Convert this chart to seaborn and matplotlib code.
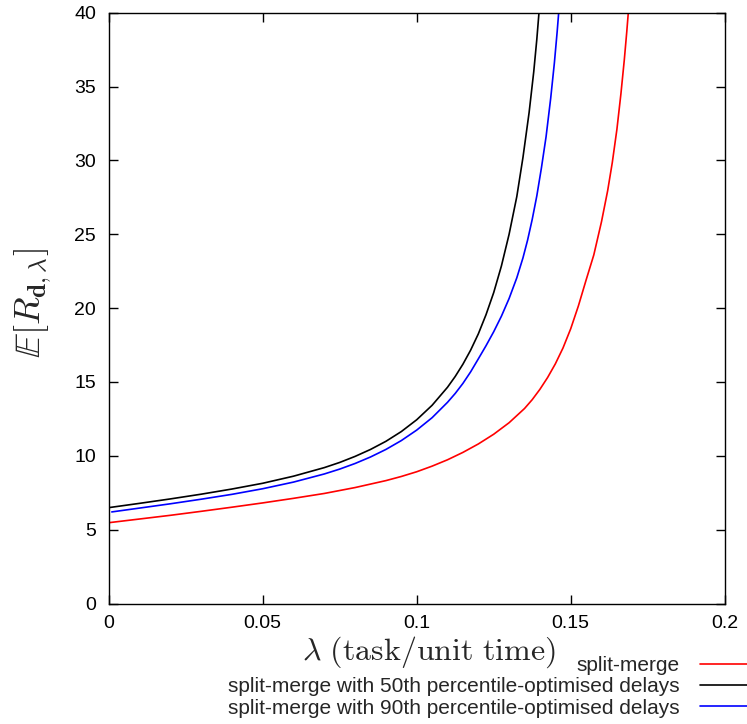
import numpy as np
import pandas as pd
import matplotlib
matplotlib.use("Agg")
import matplotlib.pyplot as plt
from matplotlib.lines import Line2D
import seaborn as sns

# ---- data ----
lam_sm = [0.000, 0.010, 0.020, 0.030, 0.040, 0.050, 0.060, 0.070, 0.080, 0.090,
          0.095, 0.100, 0.105, 0.110, 0.115, 0.120, 0.125, 0.130, 0.135, 0.1375,
          0.140, 0.1425, 0.145, 0.1475, 0.150, 0.1525, 0.155, 0.1575, 0.160, 0.162,
          0.1635, 0.165, 0.1663, 0.1674, 0.1682, 0.1687]
r_sm = [5.47, 5.72, 5.97, 6.24, 6.52, 6.81, 7.12, 7.45, 7.85, 8.32,
        8.60, 8.92, 9.30, 9.73, 10.23, 10.80, 11.46, 12.24, 13.20, 13.80,
        14.50, 15.30, 16.22, 17.30, 18.60, 20.15, 21.90, 23.60, 25.85, 27.95,
        29.85, 32.10, 34.50, 36.80, 38.70, 40.0]

lam_p50 = [0.000, 0.010, 0.020, 0.030, 0.040, 0.050, 0.060, 0.070, 0.075, 0.080,
           0.085, 0.090, 0.095, 0.100, 0.105, 0.110, 0.1125, 0.115, 0.1175, 0.120,
           0.1225, 0.125, 0.1275, 0.130, 0.1325, 0.1345, 0.1365, 0.138, 0.139, 0.1397]
r_p50 = [6.49, 6.78, 7.08, 7.40, 7.75, 8.14, 8.62, 9.20, 9.55, 9.96,
         10.43, 10.98, 11.64, 12.44, 13.42, 14.64, 15.37, 16.20, 17.15, 18.25,
         19.55, 21.05, 22.85, 25.00, 27.55, 30.20, 33.25, 36.00, 38.20, 40.0]

lam_p90 = [0.001, 0.010, 0.020, 0.030, 0.040, 0.050, 0.060, 0.070, 0.075, 0.080,
           0.085, 0.090, 0.095, 0.100, 0.105, 0.110, 0.1125, 0.115, 0.1175, 0.120,
           0.1225, 0.125, 0.1275, 0.130, 0.1325, 0.1345, 0.136, 0.1375, 0.139, 0.1405,
           0.142, 0.1435, 0.1447, 0.1456, 0.1461]
r_p90 = [6.20, 6.46, 6.75, 7.06, 7.39, 7.77, 8.22, 8.77, 9.10, 9.48,
         9.92, 10.43, 11.03, 11.74, 12.58, 13.62, 14.22, 14.90, 15.68, 16.56,
         17.45, 18.40, 19.45, 20.65, 22.05, 23.40, 24.60, 26.00, 27.60, 29.50,
         31.60, 34.20, 36.60, 38.70, 40.0]

labels = ["split-merge",
          "split-merge with 50th percentile-optimised delays",
          "split-merge with 90th percentile-optimised delays"]
colors = ["#ff0000", "#000000", "#0000ff"]

x_ticks = [0, 0.05, 0.1, 0.15, 0.2]
x_tick_labels = ["0", "0.05", "0.1", "0.15", "0.2"]
y_ticks = [0, 5, 10, 15, 20, 25, 30, 35, 40]

df = pd.concat([
    pd.DataFrame({"lam": lam_sm, "R": r_sm, "series": labels[0]}),
    pd.DataFrame({"lam": lam_p50, "R": r_p50, "series": labels[1]}),
    pd.DataFrame({"lam": lam_p90, "R": r_p90, "series": labels[2]}),
], ignore_index=True)

sns.set_theme(style="ticks")
plt.rcParams.update({
    "font.family": ["Liberation Sans", "DejaVu Sans"],
    "mathtext.fontset": "cm",
    "axes.linewidth": 1.0,
})

fig = plt.figure(figsize=(7.47, 7.24), dpi=100)
ax = fig.add_axes([108.7 / 747, 1 - 603.5 / 724, 616 / 747, 590.8 / 724])

sns.lineplot(data=df, x="lam", y="R", hue="series", hue_order=labels,
             palette=colors, estimator=None, linewidth=1.2, legend=False, ax=ax)

ax.set_xlim(0, 0.2)
ax.set_ylim(0, 40)
ax.set_xticks(x_ticks)
ax.set_xticklabels(x_tick_labels)
ax.set_yticks(y_ticks)
ax.tick_params(direction="in", top=True, right=True, length=6.5, width=1.0,
               labelsize=14, colors="black")
ax.tick_params(axis="x", pad=8)
ax.tick_params(axis="y", pad=9)
for s in ax.spines.values():
    s.set_color("black")
    s.set_linewidth(1.0)

ax.set_xlabel(r"$\lambda\ (\mathrm{task/unit\ time})$", fontsize=23, va="center")
ax.xaxis.set_label_coords(0.52, -0.082)
ax.set_ylabel(r"$\mathbb{E}[R_{\mathbf{d},\lambda}]$", fontsize=26, va="center")
ax.yaxis.set_label_coords(-0.124, 0.509)

handles = [Line2D([], [], color=c, linewidth=1.2) for c in colors]
ax.legend(handles, labels, loc="center right",
          bbox_to_anchor=(757 / 747, 1 - 687 / 724), bbox_transform=fig.transFigure,
          frameon=False, markerfirst=False, fontsize=15, handlelength=2.75,
          handletextpad=0.96, borderpad=0, labelspacing=0.1, borderaxespad=0)

fig.savefig("out.png", dpi=100)
